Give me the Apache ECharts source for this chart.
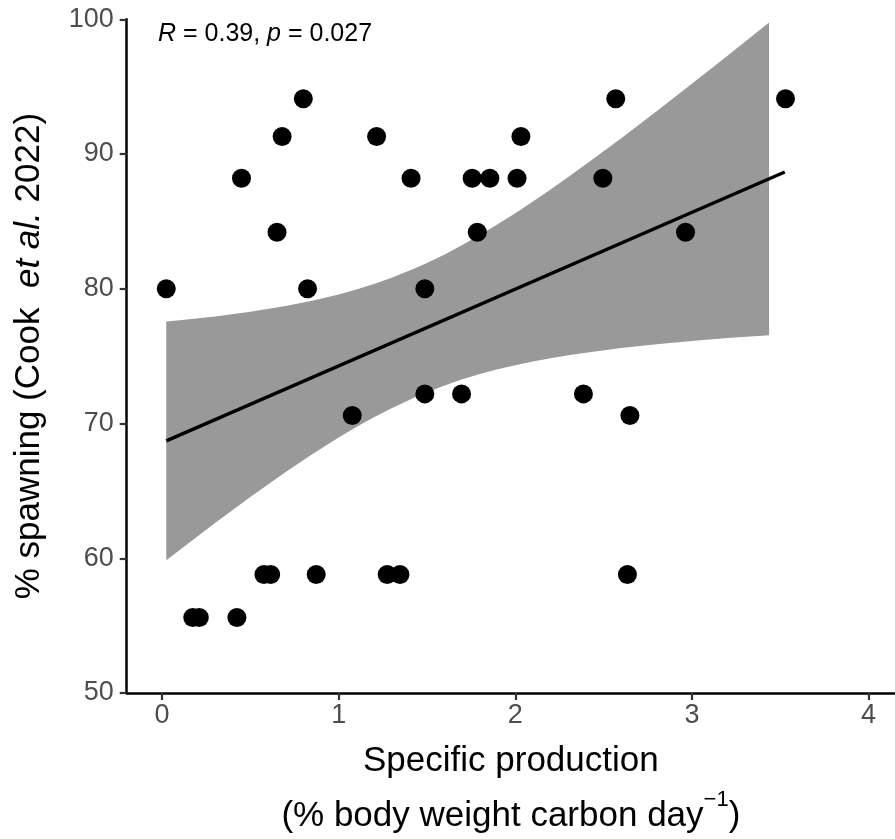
<!DOCTYPE html>
<html>
<head>
<meta charset="utf-8">
<script src="https://cdn.jsdelivr.net/npm/echarts@6/dist/echarts.min.js"></script>
<style>
  html, body { margin: 0; padding: 0; background: #fff; }
  #chart { width: 895px; height: 839px; }
</style>
</head>
<body>
<div id="chart"></div>
<script>
// specific production (% body weight carbon / day) and % spawning
const prodX = [0.024, 0.174, 0.211, 0.424, 0.45, 0.577, 0.615, 0.651, 0.68, 0.80,
  0.824, 0.873, 1.077, 1.215, 1.275, 1.347, 1.41, 1.488, 1.488, 1.696,
  1.756, 1.785, 1.856, 2.01, 2.032, 2.386, 2.496, 2.569, 2.635, 2.649,
  2.964, 3.53];
const spawnY = [80.0, 55.6, 55.6, 55.6, 88.2, 58.8, 58.8, 84.2, 91.3, 94.1,
  80.0, 58.8, 70.6, 91.3, 58.8, 58.8, 88.2, 80.0, 72.2, 72.2,
  88.2, 84.2, 88.2, 88.2, 91.3, 72.2, 88.2, 94.1, 58.8, 70.6,
  84.2, 94.1];

// fitted line ends
const fitX = [0.024, 3.526];
const fitY = [68.71, 88.67];

// confidence band (upper / lower edge)
const bandX = [0.024, 0.1, 0.3, 0.5, 0.7, 0.85, 1.0, 1.1, 1.2, 1.3, 1.436, 1.5, 1.6, 1.7, 1.8, 1.9,
  2.0, 2.1, 2.2, 2.3, 2.4, 2.6, 2.8, 3.0, 3.2, 3.437];
const bandUpper = [77.57, 77.67, 77.95, 78.30, 78.72, 79.11, 79.58, 79.94, 80.36, 80.82, 81.55, 81.92,
  82.55, 83.25, 83.99, 84.78, 85.61, 86.47, 87.37, 88.29, 89.24, 91.18, 93.18, 95.22, 97.28, 99.76];
const bandLower = [59.85, 60.61, 62.61, 64.54, 66.40, 67.72, 68.96, 69.74, 70.47, 71.14, 71.97, 72.32,
  72.83, 73.28, 73.67, 74.02, 74.33, 74.61, 74.85, 75.07, 75.26, 75.60, 75.88, 76.12, 76.34, 76.56];

const xTicks = [0, 1, 2, 3, 4];
const corrR = "0.39";
const corrP = "0.027";

const font = "'Liberation Sans', Arial, sans-serif";
const chart = echarts.init(document.getElementById("chart"));

const option = {
  animation: false,
  backgroundColor: "#fff",
  title: {
    text: "{i|R} = " + corrR + ", {i|p} = " + corrP,
    left: 158,
    top: 22,
    padding: 0,
    textStyle: {
      fontFamily: font,
      fontSize: 25,
      fontWeight: "normal",
      color: "#000",
      rich: {
        i: { fontFamily: font, fontSize: 25, fontStyle: "italic", color: "#000" },
      },
    },
  },
  grid: {
    left: 126.7,
    right: 0,
    top: 19.3,
    bottom: 145,
  },
  xAxis: {
    type: "value",
    min: -0.2,
    max: 4.15,
    name: "{a|Specific production}\n{a|(% body weight carbon day}{s|−1}{a|)}",
    nameLocation: "middle",
    nameGap: 41,
    nameTextStyle: {
      rich: {
        a: { fontFamily: font, fontSize: 35, lineHeight: 55, color: "#000" },
        s: { fontFamily: font, fontSize: 22, lineHeight: 24, color: "#000", verticalAlign: "top" },
      },
    },
    splitLine: { show: false },
    axisLine: { show: true, onZero: false, lineStyle: { color: "#000", width: 2.5 } },
    axisTick: { show: true, length: 7, customValues: xTicks, lineStyle: { color: "#333", width: 2.2 } },
    axisLabel: { customValues: xTicks, margin: 9, fontFamily: font, fontSize: 27, color: "#4d4d4d" },
  },
  yAxis: {
    type: "value",
    min: 50,
    max: 100,
    interval: 10,
    name: "{a|% spawning (Cook  }{b|et al.}{a| 2022)}",
    nameLocation: "middle",
    nameRotate: 90,
    nameGap: 80,
    nameTextStyle: {
      rich: {
        a: { fontFamily: font, fontSize: 35, color: "#000" },
        b: { fontFamily: font, fontSize: 35, fontStyle: "italic", color: "#000" },
      },
    },
    splitLine: { show: false },
    axisLine: { show: true, onZero: false, lineStyle: { color: "#000", width: 2.5 } },
    axisTick: { show: true, length: 7, lineStyle: { color: "#333", width: 2.2 } },
    axisLabel: { margin: 13, fontFamily: font, fontSize: 27, color: "#4d4d4d" },
  },
  series: [
    {
      type: "custom",
      name: "band",
      data: [0],
      z: 1,
      renderItem: (params, api) => {
        const pts = [];
        bandX.forEach((x, i) => pts.push(api.coord([x, bandUpper[i]])));
        for (let i = bandX.length - 1; i >= 0; i--) pts.push(api.coord([bandX[i], bandLower[i]]));
        return {
          type: "polygon",
          shape: { points: pts },
          style: { fill: "#999999" },
        };
      },
    },
    {
      type: "line",
      name: "fit",
      data: fitX.map((x, i) => [x, fitY[i]]),
      symbol: "none",
      z: 2,
      lineStyle: { color: "#000", width: 3.4 },
    },
    {
      type: "scatter",
      name: "points",
      data: prodX.map((x, i) => [x, spawnY[i]]),
      symbol: "circle",
      symbolSize: 19,
      z: 3,
      itemStyle: { color: "#000", opacity: 1 },
    },
  ],
};

chart.setOption(option);
</script>
</body>
</html>
